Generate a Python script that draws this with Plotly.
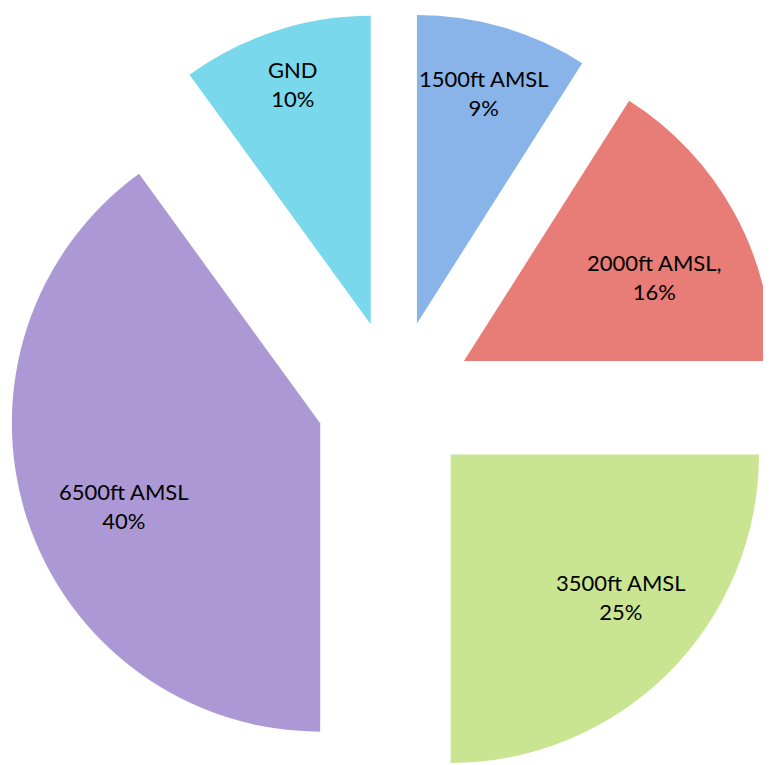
import math
import plotly.graph_objects as go

# Data
labels = ["1500ft AMSL", "2000ft AMSL,", "3500ft AMSL", "6500ft AMSL", "GND"]
values = [9, 16, 25, 40, 10]
colors = ["#88b4ea", "#e87c76", "#cae592", "#ac98d4", "#7ad8ec"]

# Styling / placement
PULL = 0.255
label_radius = [0.78, 0.675, 0.72, 0.69, 0.82]   # label distance from slice tip, as fraction of radius
label_dtheta = [0, 5, -5, -5, 0]                  # small angular nudge of labels (deg)

W, H = 774, 778
M_L, M_T = 0, 4
PW, PH = W - M_L, H - M_T

fig = go.Figure(
    go.Pie(
        labels=labels,
        values=values,
        sort=False,
        direction="clockwise",
        rotation=0,
        pull=[PULL] * len(values),
        marker=dict(colors=colors, line=dict(width=0)),
        textinfo="none",
        showlegend=False,
        hoverinfo="label+percent",
    )
)

# label annotations derived from the slice geometry
total = sum(values)
R_box = min(PW, PH) / 2.0
r = R_box / (1 + PULL)
cx, cy = M_L + PW / 2.0, M_T + PH / 2.0
cum = 0.0
for lab, v, k, dt in zip(labels, values, label_radius, label_dtheta):
    mid = (cum + v / 2.0) / total * 360.0
    cum += v
    a = math.radians(mid)
    ad = math.radians(mid + dt)
    tipx = cx + PULL * r * math.sin(a)
    tipy = cy - PULL * r * math.cos(a)
    px = tipx + k * r * math.sin(ad)
    py = tipy - k * r * math.cos(ad)
    fig.add_annotation(
        x=(px - M_L) / PW,
        y=(H - py) / PH,
        xref="paper",
        yref="paper",
        text=f"{lab}<br>{round(v / total * 100)}%",
        showarrow=False,
        xanchor="center",
        yanchor="middle",
        font=dict(family="Lato", size=22, color="black"),
    )

fig.update_layout(
    width=W,
    height=H,
    margin=dict(l=M_L, r=0, t=M_T, b=0),
    paper_bgcolor="white",
    plot_bgcolor="white",
    showlegend=False,
)

fig.write_html("out.html")
